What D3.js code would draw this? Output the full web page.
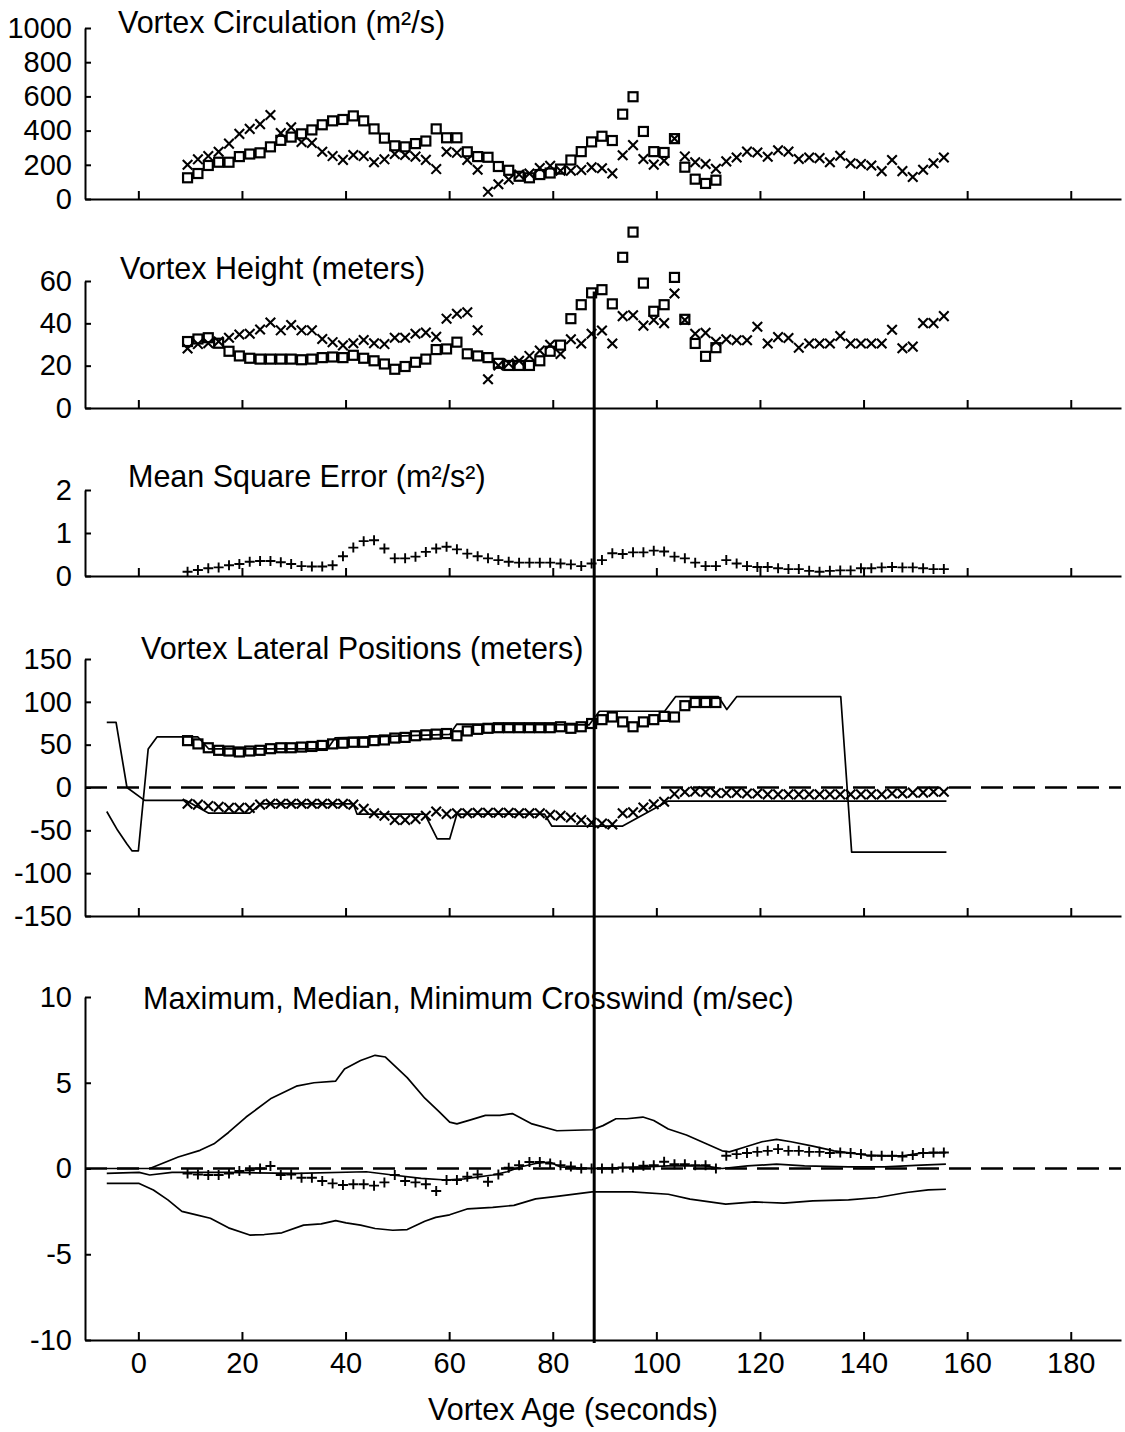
<!DOCTYPE html>
<html><head><meta charset="utf-8">
<script src="https://cdn.jsdelivr.net/npm/d3@7"></script>
<style>
body{margin:0;background:#fff}
svg{display:block;background:#fff}
</style>
</head><body>
<svg id="c" width="1125" height="1432"></svg>
<script>
// ---------------- DATA ----------------
const ageSec = [9.5,11.5,13.5,15.5,17.5,19.5,21.5,23.5,25.5,27.5,29.5,31.5,33.5,35.5,37.5,39.5,41.5,43.5,45.5,47.5,49.5,51.5,53.5,55.5,57.5,59.5,61.5,63.5,65.5,67.5,69.5,71.5,73.5,75.5,77.5,79.5,81.5,83.5,85.5,87.5,89.5,91.5,93.5,95.5,97.5,99.5,101.5,103.5,105.5,107.5,109.5,111.5,113.5,115.5,117.5,119.5,121.5,123.5,125.5,127.5,129.5,131.5,133.5,135.5,137.5,139.5,141.5,143.5,145.5,147.5,149.5,151.5,153.5,155.5];
const xTickValues = [0,20,40,60,80,100,120,140,160,180];

// Panel 1: vortex circulation (m²/s)
const circSquare = [124,149,196,215,215,248,263,270,305,343,362,381,404,434,457,465,486,457,410,356,311,305,324,339,410,358,358,276,248,244,190,168,133,124,143,152,175,228,277,334,367,342,496,598,395,277,272,353,186,116,91,110];
const circCross = [200,232,251,276,324,381,410,438,491,385,419,333,328,276,251,229,257,251,215,232,263,257,248,229,175,276,270,229,171,42,86,114,143,149,181,194,165,165,170,185,180,150,256,315,234,201,224,353,249,215,205,177,220,243,277,272,247,285,277,234,243,239,215,253,209,205,196,163,228,163,129,171,209,243];

// Panel 2: vortex height (m)
const heightSquare = [31.4,32.6,33.2,30.6,26.8,24.6,23.5,23.1,23.1,23.1,23.1,22.8,23.1,23.8,24.1,23.8,24.9,23.5,22.3,20.8,18.3,19.6,21.6,23.1,27.6,27.9,31.1,25.6,24.6,23.8,21.1,20.1,20.1,20.1,22.3,26.8,29.7,42.2,48.8,54.4,55.9,49.2,71.2,83.1,59.0,45.7,48.8,61.7,41.9,30.5,24.4,28.5];
const heightCross = [28.1,30.2,30.6,31.4,33.2,34.7,35.1,37.1,40.4,36.7,39.2,36.7,36.7,32.6,31.1,29.6,30.6,32.1,30.6,30.2,33.2,33.2,35.1,35.6,33.6,42.2,44.5,45.2,36.7,13.6,20.1,21.1,22.3,24.6,27.1,29.9,25.5,32.5,30.5,35.1,36.6,30.5,43.4,43.8,38.9,41.6,40.1,54.1,41.6,35.1,35.5,31.3,32.5,32.0,32.0,38.4,30.5,33.5,33.1,28.5,30.5,30.5,30.5,34.0,30.5,30.5,30.5,30.5,37.0,28.2,29.0,40.1,40.1,43.4];

// Panel 3: mean square error (m²/s²)
const mseValues = [0.10,0.14,0.18,0.20,0.25,0.28,0.33,0.35,0.35,0.32,0.28,0.23,0.22,0.22,0.25,0.46,0.66,0.81,0.83,0.64,0.41,0.41,0.45,0.56,0.64,0.68,0.62,0.52,0.46,0.41,0.37,0.33,0.31,0.31,0.31,0.31,0.29,0.27,0.23,0.29,0.37,0.53,0.51,0.55,0.55,0.59,0.57,0.45,0.41,0.31,0.23,0.23,0.37,0.29,0.23,0.21,0.21,0.18,0.16,0.16,0.12,0.10,0.12,0.13,0.13,0.18,0.18,0.20,0.21,0.20,0.20,0.18,0.16,0.16];

// Panel 4: vortex lateral positions (m)
const latSquare = [54.7,50.9,46.4,43.4,42.6,41.5,42.6,43.4,45.3,46.4,46.4,47.2,47.9,49.1,50.9,51.7,52.8,52.8,54.7,55.5,57.7,58.5,60.4,61.5,62.3,63.0,60.4,66.0,67.9,69.1,69.8,69.8,69.8,69.8,69.8,69.8,70.9,69.1,70.9,74.7,79.2,82.3,76.6,70.9,76.6,79.2,83.0,82.3,95.5,99.2,99.2,99.2];
const latCross = [-19,-20,-21.5,-22.6,-23.8,-23.8,-23.8,-20,-19,-19,-19,-19,-19,-19,-19,-19,-20,-25,-30,-33,-38,-38,-36.6,-33,-28,-31,-30,-30,-29.4,-29.4,-29.4,-29.4,-30,-30,-30,-32,-33,-35,-38,-41,-42,-43,-30,-29,-23.4,-19.6,-16.6,-7.5,-5.3,-4.5,-5.3,-6.4,-6.5,-6,-7,-7,-8,-8,-8,-8,-8,-8,-8,-8,-8,-8,-8,-8,-7,-7,-6,-6,-5,-5];
const latTrackA = [[-6.1,76],[-4.3,76],[-2.2,0],[1.2,-15],[9.1,-15],[13.6,-30],[21.5,-30],[23.6,-19],[41.5,-19],[42.2,-31],[55.3,-31],[57.7,-60],[60.1,-60],[61.5,-31],[78.4,-31],[79.8,-45],[93.5,-45],[102.2,-16],[156,-16]];
const latTrackB = [[-6.1,-28],[-4,-50],[-2.2,-66],[-1.2,-74],[0,-74],[1.9,45],[3.6,59],[11.5,59],[13.6,45],[36.5,45],[38,58],[45,59],[60.1,62],[61.5,74],[87,73],[89,89],[101.6,89],[103.7,106],[112,106],[113.6,91],[115.5,106],[135.6,106],[137.7,-75.5],[156,-75.5]];

// Panel 5: crosswind (m/sec)
const windMax = [[-6.1,0],[2.2,0],[7.7,0.67],[11.9,1.06],[14.6,1.44],[17.4,2.1],[20.8,3.0],[25.7,4.1],[30.5,4.8],[33.9,5.0],[38.1,5.1],[39.8,5.8],[42.9,6.3],[45.7,6.6],[47.7,6.5],[51.9,5.3],[55.3,4.1],[58.1,3.3],[60.1,2.7],[61.5,2.6],[64.3,2.85],[67,3.1],[69.8,3.1],[72.2,3.2],[76,2.6],[80.8,2.2],[87.6,2.26],[89.7,2.5],[92.2,2.9],[94.3,2.9],[97.4,3.0],[99.5,2.8],[102.3,2.3],[105.8,1.95],[109.2,1.5],[112.7,1.03],[114.1,0.97],[117.6,1.3],[120.4,1.56],[123.2,1.7],[126,1.56],[130.2,1.3],[134.3,1.03],[140.6,0.78],[144.1,0.74],[147.6,0.74],[151.1,0.9],[155.9,0.93]];
const windMin = [[-6.1,-0.87],[0.15,-0.87],[2.9,-1.25],[5.7,-1.83],[8.4,-2.5],[11.2,-2.7],[13.9,-2.9],[17.4,-3.46],[21.5,-3.88],[24.3,-3.85],[27.7,-3.75],[31.9,-3.3],[35.3,-3.23],[38.1,-3.04],[40.1,-3.17],[42.9,-3.3],[45.7,-3.5],[49.1,-3.6],[51.9,-3.56],[55.3,-3.08],[57.4,-2.85],[60.1,-2.7],[63.6,-2.35],[68.4,-2.27],[72.5,-2.15],[76.7,-1.77],[80.8,-1.63],[87.6,-1.36],[95.3,-1.36],[102.3,-1.5],[106.5,-1.79],[113.4,-2.08],[119,-1.95],[124.6,-2.02],[130.2,-1.89],[137.1,-1.83],[142.7,-1.69],[148.3,-1.4],[152.5,-1.25],[155.9,-1.21]];
const windMedianLine = [[-6.1,-0.29],[0.15,-0.23],[2.2,-0.38],[6.5,-0.23],[17.4,-0.23],[30.5,-0.29],[44,-0.19],[49.1,-0.38],[54.6,-0.58],[59.4,-0.67],[62.9,-0.6],[68.4,-0.38],[71.2,-0.19],[73.9,0.1],[76.7,0.29],[79.4,0.38],[81.4,0.1],[87.6,0],[95.3,0.06],[102.3,0.15],[109.2,0.15],[112.7,0],[117.6,0.15],[123.2,0.25],[128.6,0.15],[137.1,0.1],[144.1,0.1],[151.1,0.2],[155.9,0.25]];
const windPlus = [-0.29,-0.35,-0.38,-0.38,-0.29,-0.15,-0.1,0,0.15,-0.38,-0.35,-0.54,-0.54,-0.73,-0.87,-0.96,-0.92,-0.92,-1.0,-0.81,-0.38,-0.73,-0.81,-0.92,-1.31,-0.67,-0.67,-0.48,-0.35,-0.77,-0.35,0.04,0.19,0.38,0.38,0.29,0.19,0.12,0,0,0,0,0.06,0.06,0.16,0.19,0.39,0.25,0.25,0.19,0.19,0,0.74,0.84,0.9,0.97,1.03,1.13,1.03,1.03,0.97,0.97,0.9,0.93,0.9,0.84,0.74,0.74,0.74,0.7,0.78,0.9,0.93,0.93];

const markerAge = 88;        // vertical reference line (s)
const markerTopHeight = 55;  // starts at this vortex height (m)

const titles = ['Vortex Circulation (m²/s)','Vortex Height (meters)','Mean Square Error (m²/s²)','Vortex Lateral Positions (meters)','Maximum, Median, Minimum Crosswind (m/sec)'];
const yTickSets = [[0,200,400,600,800,1000],[0,20,40,60],[0,1,2],[-150,-100,-50,0,50,100,150],[-10,-5,0,5,10]];
const yDomains = [[0,1000],[0,60],[0,2],[-150,150],[-10,10]];

// ---------------- LAYOUT ----------------
const FONT = '"Liberation Sans", Arial, Helvetica, sans-serif';
const layout = [
  {range:[199,28],   tx:118, ty:33},
  {range:[408,281],  tx:120, ty:279},
  {range:[576,490],  tx:128, ty:487},
  {range:[916,659],  tx:141, ty:659},
  {range:[1340,997], tx:143, ty:1009}
];
const svg = d3.select('#c');
const x = d3.scaleLinear().domain([-10.3, 189.7]).range([85, 1121]);
const pair = vals => vals.map((v,i)=>[ageSec[i], v]);

const ys = layout.map((L,k)=> d3.scaleLinear().domain(yDomains[k]).range(L.range));

layout.forEach((L,k)=>{
  const y = ys[k];
  const g = svg.append('g');
  const ya = g.append('g').attr('transform',`translate(${x.range()[0]},0)`)
    .call(d3.axisLeft(y).tickValues(yTickSets[k]).tickSizeInner(-6).tickSizeOuter(0).tickPadding(13).tickFormat(d=>String(d)));
  const xa = g.append('g').attr('transform',`translate(0,${L.range[0]})`)
    .call(d3.axisBottom(x).tickValues(xTickValues).tickSizeInner(-8).tickSizeOuter(0).tickPadding(12)
      .tickFormat(k===4 ? (d=>String(d)) : ''));
  [ya,xa].forEach(a=>{
    a.attr('font-family',FONT).attr('font-size',29);
    a.selectAll('path.domain').attr('stroke','#000').attr('stroke-width',2);
    a.selectAll('.tick line').attr('stroke','#000').attr('stroke-width',2);
    a.selectAll('.tick text').attr('fill','#000');
  });
  g.append('text').attr('x',L.tx).attr('y',L.ty).attr('font-family',FONT).attr('font-size',30.5).attr('fill','#000').text(titles[k]);
});

svg.append('text').attr('x',573).attr('y',1420).attr('text-anchor','middle')
  .attr('font-family',FONT).attr('font-size',30.5).attr('fill','#000').text('Vortex Age (seconds)');

// zero dashed lines
[3,4].forEach(k=>{
  svg.append('line').attr('x1',x.range()[0]).attr('x2',x.range()[1])
    .attr('y1',ys[k](0)).attr('y2',ys[k](0))
    .attr('stroke','#000').attr('stroke-width',2.5).attr('stroke-dasharray','22,10');
});

const line = (y)=> d3.line().x(d=>x(d[0])).y(d=>y(d[1]));
function drawLine(data, y, w){
  svg.append('path').datum(data).attr('d', line(y)).attr('fill','none').attr('stroke','#000').attr('stroke-width',w||1.7).attr('stroke-linejoin','round');
}
function squares(data, y){
  svg.append('g').selectAll('rect').data(data).join('rect')
    .attr('x',d=>x(d[0])-4.5).attr('y',d=>y(d[1])-4.5).attr('width',9).attr('height',9)
    .attr('fill','none').attr('stroke','#000').attr('stroke-width',2.2);
}
function crosses(data, y){
  svg.append('g').selectAll('path').data(data).join('path')
    .attr('d',d=>{const cx=x(d[0]), cy=y(d[1]), s=4.8; return `M${cx-s},${cy-s}L${cx+s},${cy+s}M${cx-s},${cy+s}L${cx+s},${cy-s}`;})
    .attr('stroke','#000').attr('stroke-width',2.1).attr('fill','none');
}
function pluses(data, y){
  svg.append('g').selectAll('path').data(data).join('path')
    .attr('d',d=>{const cx=x(d[0]), cy=y(d[1]), s=5; return `M${cx-s},${cy}L${cx+s},${cy}M${cx},${cy-s}L${cx},${cy+s}`;})
    .attr('stroke','#000').attr('stroke-width',1.9).attr('fill','none');
}

// Panel 1
crosses(pair(circCross), ys[0]);
squares(pair(circSquare), ys[0]);
// Panel 2
crosses(pair(heightCross), ys[1]);
squares(pair(heightSquare), ys[1]);
// Panel 3
pluses(pair(mseValues), ys[2]);
// Panel 4
drawLine(latTrackA, ys[3]);
drawLine(latTrackB, ys[3]);
crosses(pair(latCross), ys[3]);
squares(pair(latSquare), ys[3]);
// Panel 5
drawLine(windMax, ys[4]);
drawLine(windMin, ys[4]);
drawLine(windMedianLine, ys[4]);
pluses(pair(windPlus), ys[4]);

// vertical reference line
svg.append('line').attr('x1',x(markerAge)).attr('x2',x(markerAge))
  .attr('y1',ys[1](markerTopHeight)).attr('y2',1343)
  .attr('stroke','#000').attr('stroke-width',3);
</script>
</body></html>
